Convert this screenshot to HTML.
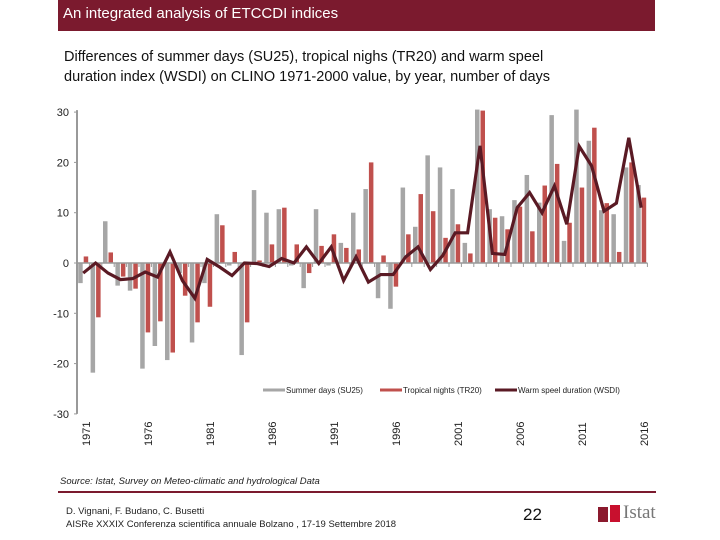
<!DOCTYPE html>
<html><head><meta charset="utf-8"><style>
body{margin:0;width:720px;height:540px;background:#fff;position:relative;overflow:hidden;font-family:"Liberation Sans",sans-serif}
.abs{position:absolute}
</style></head><body>
<div class="abs" style="left:58px;top:0;width:597px;height:31px;background:#7b1a2e"></div>
<div class="abs" style="left:63px;top:5px;color:#fff;font-size:15px">An integrated analysis of ETCCDI indices</div>
<div class="abs" style="left:64px;top:47px;font-size:14.5px;line-height:20px;color:#111">Differences of summer days (SU25), tropical nighs (TR20) and warm speel<br>duration index (WSDI) on CLINO 1971-2000 value, by year, number of days</div>
<svg class="abs" style="left:0;top:0" width="720" height="540">
<g id="g"></g>
</svg>
<div class="abs" style="left:60px;top:476px;font-size:9.5px;font-style:italic;color:#222">Source: Istat, Survey on Meteo-climatic and hydrological Data</div>
<div class="abs" style="left:58px;top:491px;width:598px;height:2px;background:#7b1a2e"></div>
<div class="abs" style="left:66px;top:505px;font-size:9.5px;line-height:13px;color:#222">D. Vignani, F. Budano, C. Busetti<br>AISRe XXXIX Conferenza scientifica annuale Bolzano , 17-19 Settembre 2018</div>
<div class="abs" style="left:523px;top:505px;font-size:17px;color:#111">22</div>
<div class="abs" style="left:598px;top:504px;width:60px;height:20px">
<div class="abs" style="left:0;top:3px;width:10px;height:15px;background:#8b1a2e"></div>
<div class="abs" style="left:12px;top:1px;width:10px;height:17px;background:#c8102e"></div>
<div class="abs" style="left:25px;top:-2px;font-family:'Liberation Serif',serif;font-size:19px;color:#777">Istat</div>
</div>
<script>
const years=[];for(let y=1971;y<=2016;y++)years.push(y);
const su25=[-4,-21.8,8.3,-4.5,-5.5,-21,-16.5,-19.3,-2,-15.8,-4,9.7,-0.5,-18.3,14.5,10,10.7,-0.5,-5,10.7,-0.5,4,10,14.7,-7,-9.1,15,7.2,21.4,19,14.7,4,30.5,10.7,9.3,12.5,17.5,12,29.4,4.4,30.5,24.3,10.5,9.7,19,15.5];
const tr20=[1.3,-10.8,2.1,-2.7,-5.1,-13.8,-11.6,-17.8,-6.5,-11.8,-8.7,7.5,2.2,-11.8,0.5,3.7,11,3.7,-2,3.4,5.7,3,2.7,20,1.5,-4.7,5.7,13.7,10.3,5,7.7,1.9,30.3,9,6.7,11.2,6.3,15.4,19.7,8,15,26.9,11.9,2.2,20,13];
const wsdi=[-2,0,-2,-3.3,-3.1,-1.8,-2.8,2.2,-3.5,-7,0.7,-0.8,-2.5,0,-0.1,-0.7,0.9,0,3.2,-0.1,3.2,-3.5,1.2,-3.8,-2.3,-2.3,1.2,3.2,-1.3,1.5,6,6,23.3,1.9,1.7,11,14,10,15.3,7.7,23.2,19.3,10.3,11.9,24.9,11];
const yTicks=[30,20,10,0,-10,-20,-30];
const legendLabels=["Summer days (SU25)","Tropical nights (TR20)","Warm speel duration (WSDI)"];
const NS="http://www.w3.org/2000/svg",g=document.getElementById('g');
const x0=77,bw=12.4,y0=263,k=5.03;
const X=i=>x0+(i+0.5)*bw, Y=v=>y0-v*k;
function mk(t,a){const e=document.createElementNS(NS,t);for(const n in a)e.setAttribute(n,a[n]);g.appendChild(e);return e;}
let e=mk('line',{x1:x0,y1:Y(30)-2,x2:x0,y2:Y(-30),stroke:'#999','stroke-width':2});


yTicks.forEach(v=>{
 const t=mk('text',{x:x0-8,y:Y(v)+4,'text-anchor':'end','font-size':11,fill:'#222'});t.textContent=v;
 
 
 mk('line',{x1:x0-3,y1:Y(v),x2:x0,y2:Y(v),stroke:'#999'});
});
years.forEach((yr,i)=>{
 const a=su25[i],b=tr20[i];
 let r=mk('rect',{x:X(i)-5,y:Math.min(Y(a),y0),width:4.5,height:Math.abs(Y(a)-y0),fill:'#a6a6a6'});
 
 
 r=mk('rect',{x:X(i)+0.5,y:Math.min(Y(b),y0),width:4.5,height:Math.abs(Y(b)-y0),fill:'#c0504d'});
 
 
 mk('line',{x1:x0+(i+1)*bw,y1:y0,x2:x0+(i+1)*bw,y2:y0+4,stroke:'#999'});
 if((yr-1971)%5===0){
  const t=mk('text',{transform:`translate(${X(i)+7},446) rotate(-90)`,'font-size':11,fill:'#222'});t.textContent=yr;
  
  
 }
});
e=mk('line',{x1:x0,y1:y0,x2:x0+years.length*bw,y2:y0,stroke:'#999','stroke-width':1.5});


e=mk('polyline',{points:wsdi.map((v,i)=>X(i)+','+Y(v)).join(' '),fill:'none',stroke:'#5a1a24','stroke-width':3.2,'stroke-linejoin':'miter'});


const lx=[263,380,495],lc=['#a6a6a6','#c0504d','#5a1a24'];
legendLabels.forEach((s,j)=>{
 mk('line',{x1:lx[j],y1:390,x2:lx[j]+22,y2:390,stroke:lc[j],'stroke-width':3});
 const t=mk('text',{x:lx[j]+23,y:393,'font-size':8,fill:'#222'});t.textContent=s;
 
 
});
</script>
</body></html>
